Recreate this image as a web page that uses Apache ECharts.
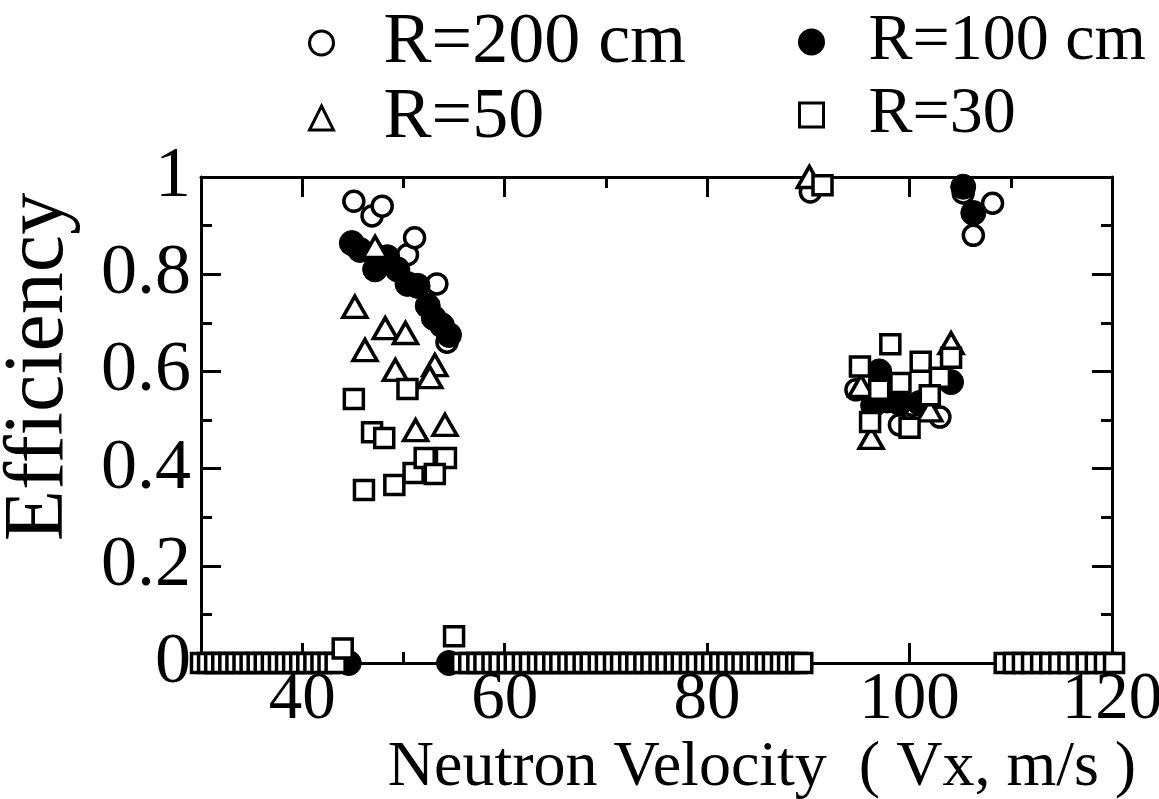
<!DOCTYPE html>
<html>
<head>
<meta charset="utf-8">
<title>Efficiency vs Neutron Velocity</title>
<script src="https://cdn.jsdelivr.net/npm/echarts@6/dist/echarts.min.js"></script>
<style>
  html, body { margin: 0; padding: 0; background: #fff; }
  #chart { width: 1159px; height: 799px; }
</style>
</head>
<body>
<div id="chart"></div>
<script>
// R=200 cm (open circles)
const r200X = [45.1, 46.9, 47.9, 50.4, 51.1, 53.3, 54.3, 90.2, 105.3, 108.2, 106.3, 94.7, 103.0, 99.0, 100.3]
const r200Y = [0.95, 0.92, 0.94, 0.84, 0.875, 0.78, 0.66, 0.969, 0.967, 0.946, 0.88, 0.562, 0.506, 0.49, 0.53]

// R=100 cm (filled circles)
const r100X = [44.6, 54.5, 44.9, 45.7, 47.2, 48.4, 49.4, 50.4, 51.4, 52.4, 53.0, 53.8, 54.5, 105.3, 106.3, 97.0, 99.0, 101.0, 104.1, 97.8, 96.4]
const r100Y = [0, 0, 0.864, 0.85, 0.81, 0.835, 0.81, 0.78, 0.776, 0.735, 0.71, 0.695, 0.675, 0.98, 0.926, 0.6, 0.535, 0.535, 0.578, 0.54, 0.53]

// R=50 (open triangles)
const r50X = [45.2, 46.2, 48.2, 50.2, 49.2, 53.1, 52.6, 51.2, 54.1, 47.2, 90.1, 95.2, 104.1, 96.2, 102.0]
const r50Y = [0.733, 0.644, 0.689, 0.679, 0.603, 0.613, 0.588, 0.479, 0.49, 0.856, 1.0, 0.57, 0.658, 0.463, 0.52]

// R=30 (open squares), points lying on the zero line
const r30RowX = [
  30.0, 30.7, 31.4, 32.1, 32.8, 33.5, 34.2, 34.9, 35.6, 36.3, 37.0, 37.7, 38.4, 39.1, 39.8, 40.5, 41.2, 41.9, 42.6, 43.3,
  55.8, 56.5, 57.3, 58.0, 58.8, 59.5, 60.3, 61.0, 61.8, 62.5, 63.3, 64.0, 64.8, 65.5, 66.3, 67.0, 67.8, 68.5, 69.3, 70.0,
  70.8, 71.5, 72.3, 73.0, 73.8, 74.5, 75.3, 76.0, 76.8, 77.5, 78.3, 79.0, 79.8, 80.5, 81.3, 82.0, 82.8, 83.5, 84.3, 85.0,
  85.8, 86.5, 87.3, 88.0, 88.8, 89.4,
  109.4, 110.3, 111.2, 112.1, 113.0, 113.9, 114.8, 115.7, 116.6, 117.5, 118.4, 119.3, 120.2
]
// R=30, the other points
const r30X = [45.1, 46.9, 48.1, 50.4, 46.1, 49.1, 51.0, 52.1, 54.2, 53.1, 44.0, 55.0, 91.4, 95.1, 98.1, 101.1, 104.1, 103.0, 99.1, 97.0, 102.0, 96.1, 100.0]
const r30Y = [0.543, 0.475, 0.463, 0.564, 0.356, 0.366, 0.391, 0.422, 0.422, 0.389, 0.03, 0.055, 0.983, 0.61, 0.656, 0.62, 0.628, 0.587, 0.576, 0.562, 0.551, 0.496, 0.484]

// axis ticks
const xMajorTicks = [40, 60, 80, 100, 120]
const xMinorTicks = [50, 70, 90, 110]

const zip = (xs, ys) => xs.map((x, i) => [x, ys[i]])

const FONT = 'Liberation Serif'
const LW = 3

const chart = echarts.init(document.getElementById('chart'))

const xBase = {
  type: 'value',
  min: 30,
  max: 120,
  splitLine: { show: false },
  axisLine: { show: false, lineStyle: { color: '#000', width: LW } },
  axisLabel: { show: false }
}

const yBase = {
  type: 'value',
  min: 0,
  max: 1,
  interval: 0.2,
  splitLine: { show: false },
  axisLine: { show: true, lineStyle: { color: '#000', width: LW } },
  axisTick: { show: true, inside: true, length: 20, lineStyle: { color: '#000', width: LW } },
  minorTick: { show: true, splitNumber: 2, length: 11, lineStyle: { color: '#000', width: LW } }
}

// hollow markers: white fill with a thick black border
const hollow = { color: '#fff', borderColor: '#000', borderWidth: 3.5, opacity: 1 }

chart.setOption({
  animation: false,
  backgroundColor: '#fff',
  grid: { left: 201, right: 47, top: 177, bottom: 136, outerBoundsMode: 'none' },
  xAxis: [
    {
      ...xBase,
      position: 'bottom',
      axisLine: { show: true, lineStyle: { color: '#000', width: LW } },
      axisTick: { show: true, inside: true, length: 20, customValues: xMajorTicks, lineStyle: { color: '#000', width: LW } },
      axisLabel: { show: true, customValues: xMajorTicks, margin: 4, fontFamily: FONT, fontSize: 67, color: '#000' }
    },
    {
      ...xBase,
      position: 'bottom',
      axisTick: { show: true, inside: true, length: 11, customValues: xMinorTicks, lineStyle: { color: '#000', width: LW } }
    },
    {
      ...xBase,
      position: 'top',
      axisLine: { show: true, lineStyle: { color: '#000', width: LW } },
      axisTick: { show: true, inside: true, length: 20, customValues: xMajorTicks, lineStyle: { color: '#000', width: LW } }
    },
    {
      ...xBase,
      position: 'top',
      axisTick: { show: true, inside: true, length: 11, customValues: xMinorTicks, lineStyle: { color: '#000', width: LW } }
    }
  ],
  yAxis: [
    {
      ...yBase,
      position: 'left',
      axisLabel: {
        margin: 10,
        fontFamily: FONT,
        fontSize: 72,
        color: '#000',
        formatter: (v) => String(Math.round(v * 10) / 10)
      }
    },
    {
      ...yBase,
      position: 'right',
      axisLabel: { show: false }
    }
  ],
  legend: [
    {
      left: 303,
      top: 2,
      orient: 'vertical',
      itemWidth: 24,
      itemHeight: 24,
      itemGap: 3,
      itemStyle: { borderWidth: 3 },
      data: ['R=200 cm', 'R=50'],
      textStyle: { fontFamily: FONT, fontSize: 72, lineHeight: 70, color: '#000', padding: [0, 0, 0, 45] }
    },
    {
      left: 793,
      top: 2,
      orient: 'vertical',
      itemWidth: 24,
      itemHeight: 24,
      itemGap: 3,
      itemStyle: { borderWidth: 3 },
      data: ['R=100 cm', 'R=30'],
      textStyle: { fontFamily: FONT, fontSize: 66, lineHeight: 70, color: '#000', padding: [0, 0, 0, 40] }
    }
  ],
  graphic: [
    {
      type: 'text',
      x: 40,
      y: 367,
      rotation: Math.PI / 2,
      style: { text: 'Efficiency', font: '84px "Liberation Serif"', fill: '#000', textAlign: 'center', textVerticalAlign: 'middle' }
    },
    {
      type: 'text',
      x: 762,
      y: 768,
      style: { text: 'Neutron Velocity  ( Vx, m/s )', font: '64px "Liberation Serif"', fill: '#000', textAlign: 'center', textVerticalAlign: 'middle' }
    }
  ],
  series: [
    {
      name: 'R=200 cm',
      type: 'scatter',
      clip: false,
      symbol: 'circle',
      symbolSize: 20,
      itemStyle: hollow,
      data: zip(r200X, r200Y)
    },
    {
      name: 'R=100 cm',
      type: 'scatter',
      clip: false,
      symbol: 'circle',
      symbolSize: 25,
      itemStyle: { color: '#000', borderColor: '#000', opacity: 1 },
      data: zip(r100X, r100Y)
    },
    {
      name: 'R=50',
      type: 'scatter',
      clip: false,
      symbol: 'triangle',
      symbolSize: [24, 21],
      itemStyle: hollow,
      data: zip(r50X, r50Y)
    },
    {
      name: 'R=30',
      type: 'scatter',
      clip: false,
      symbol: 'rect',
      symbolSize: 19,
      itemStyle: hollow,
      data: r30RowX.map((x) => [x, 0]).concat(zip(r30X, r30Y))
    }
  ]
})
</script>
</body>
</html>
